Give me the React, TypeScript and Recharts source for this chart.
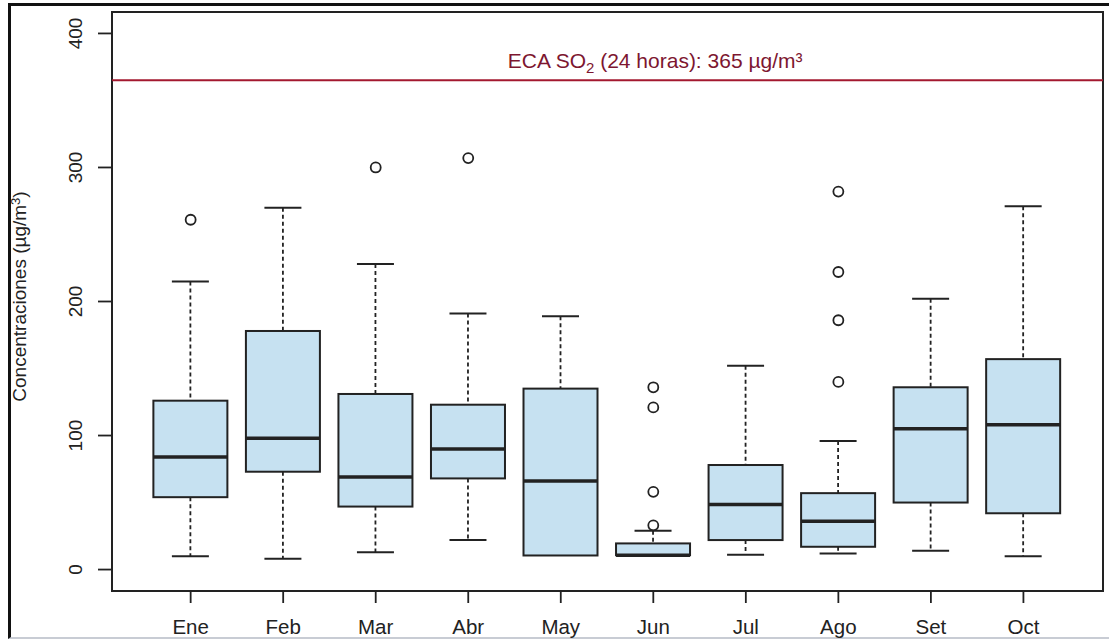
import React from 'react';
import {
  ComposedChart,
  Bar,
  Scatter,
  XAxis,
  YAxis,
  ReferenceLine,
  ReferenceArea,
  ReferenceDot,
} from 'recharts';

const months = ['Ene', 'Feb', 'Mar', 'Abr', 'May', 'Jun', 'Jul', 'Ago', 'Set', 'Oct'];
const whiskerLow = [10, 8, 13, 22, 10.5, 10.7, 11, 12, 14, 10];
const q1 = [54, 73, 47, 68, 10.5, 10.7, 22, 17, 50, 42];
const median = [84, 98, 69, 90, 66, 10.7, 48.5, 36, 105, 108];
const q3 = [126, 178, 131, 123, 135, 19.5, 78, 57, 136, 157];
const whiskerHigh = [215, 270, 228, 191, 189, 29, 152, 96, 202, 271];
const outliers: number[][] = [[261], [], [300], [307], [], [33, 58, 121, 136], [], [140, 186, 222, 282], [], []];
const yTicks = [0, 100, 200, 300, 400];
const ecaLimit = 365;

const boxData = months.map((m, i) => ({
  x: i + 1,
  name: m,
  low: whiskerLow[i],
  q1: q1[i],
  med: median[i],
  q3: q3[i],
  high: whiskerHigh[i],
}));

const outlierData = outliers.flatMap((arr, i) => arr.map((v) => ({ x: i + 1, y: v })));

const FONT = '"Liberation Sans", Arial, Helvetica, sans-serif';
const INK = '#222';
const BOX_FILL = '#c6e1f1';

const BoxShape = (props: any) => {
  const { x, y, width, height, payload } = props;
  if (!payload) return null;
  const { low, q1: b1, med, q3: b3, high } = payload;
  const span = high - low;
  const py = (v: number) => (span === 0 ? y : y + (height * (high - v)) / span);
  const cx = x + width / 2;
  const capHalf = width / 4;
  const yHigh = py(high);
  const yLow = py(low);
  const yQ3 = py(b3);
  const yQ1 = py(b1);
  const yMed = py(med);
  return (
    <g>
      {high > b3 && (
        <>
          <line x1={cx} x2={cx} y1={yHigh} y2={yQ3} stroke={INK} strokeWidth={1.8} strokeDasharray="4 3" />
          <line x1={cx - capHalf} x2={cx + capHalf} y1={yHigh} y2={yHigh} stroke={INK} strokeWidth={2} />
        </>
      )}
      {low < b1 && (
        <>
          <line x1={cx} x2={cx} y1={yQ1} y2={yLow} stroke={INK} strokeWidth={1.8} strokeDasharray="4 3" />
          <line x1={cx - capHalf} x2={cx + capHalf} y1={yLow} y2={yLow} stroke={INK} strokeWidth={2} />
        </>
      )}
      <rect x={x} y={yQ3} width={width} height={Math.max(yQ1 - yQ3, 0)} fill={BOX_FILL} stroke={INK} strokeWidth={2} />
      <line x1={x} x2={x + width} y1={yMed} y2={yMed} stroke={INK} strokeWidth={3.5} />
    </g>
  );
};

const OutlierShape = (props: any) => {
  const { cx, cy } = props;
  return <circle cx={cx} cy={cy} r={5} fill="none" stroke={INK} strokeWidth={1.8} />;
};

const YTick = (props: any) => {
  const { x, y, payload } = props;
  return (
    <text
      x={x}
      y={y}
      transform={`rotate(-90 ${x} ${y})`}
      textAnchor="middle"
      fontSize={19}
      fontFamily={FONT}
      fill={INK}
    >
      {payload.value}
    </text>
  );
};

const YLabel = (props: any) => {
  const vb = props.viewBox || {};
  const x = (vb.x || 0) + 26;
  const y = (vb.y || 0) + (vb.height || 0) / 2 - 5;
  return (
    <text x={x} y={y} transform={`rotate(-90 ${x} ${y})`} textAnchor="middle" fontSize={19} fontFamily={FONT} fill={INK}>
      Concentraciones (µg/m
      <tspan fontSize={13} dy={-6}>3</tspan>
      <tspan dy={6}>)</tspan>
    </text>
  );
};

const EcaLabel = (props: any) => {
  const { cx, cy } = props;
  return (
    <text x={cx} y={cy - 12} textAnchor="middle" fontSize={21} fontFamily={FONT} fill="#7d1630">
      ECA SO
      <tspan fontSize={15} dy={5}>2</tspan>
      <tspan dy={-5}> (24 horas): 365 µg/m³</tspan>
    </text>
  );
};

export default function App() {
  return (
    <div style={{ position: 'absolute', left: 0, top: 0, width: 1109, height: 642, background: '#fff' }}>
      <div
        style={{
          position: 'absolute',
          left: 8,
          top: 3,
          width: 1110,
          height: 636,
          borderLeft: '3px solid #111',
          borderTop: '3px solid #111',
          borderBottom: '2px solid #c8ccd4',
          boxSizing: 'border-box',
        }}
      />
      <div style={{ position: 'absolute', left: 0, top: 0 }}>
        <ComposedChart
          width={1109}
          height={642}
          data={boxData}
          margin={{ top: 12, right: 6, bottom: 0, left: 0 }}
        >
          <XAxis
            type="number"
            dataKey="x"
            domain={[0.15, 10.86]}
            allowDataOverflow
            ticks={[1, 2, 3, 4, 5, 6, 7, 8, 9, 10]}
            tickFormatter={(v: number) => months[v - 1]}
            axisLine={false}
            tickLine={{ stroke: INK, strokeWidth: 1.8 }}
            tickSize={12}
            tickMargin={16}
            height={51}
            tick={{ fill: INK, fontSize: 20.5, fontFamily: FONT }}
            interval={0}
          />
          <YAxis
            type="number"
            domain={[-16, 416]}
            allowDataOverflow
            ticks={yTicks}
            width={112}
            axisLine={false}
            tickLine={{ stroke: INK, strokeWidth: 1.8 }}
            tickSize={14}
            tickMargin={16}
            tick={<YTick />}
            label={<YLabel />}
            interval={0}
          />
          <ReferenceArea
            x1={0.15}
            x2={10.86}
            y1={-16}
            y2={416}
            fill="none"
            stroke={INK}
            strokeWidth={2}
            ifOverflow="visible"
          />
          <ReferenceLine y={ecaLimit} stroke="#a3182f" strokeWidth={2} />
          <ReferenceDot x={6.02} y={ecaLimit} r={0} shape={<EcaLabel />} ifOverflow="visible" />
          <Bar
            dataKey={(d: any) => [d.low, d.high]}
            barSize={74}
            shape={<BoxShape />}
            isAnimationActive={false}
          />
          <Scatter data={outlierData} dataKey="y" shape={<OutlierShape />} isAnimationActive={false} />
        </ComposedChart>
      </div>
    </div>
  );
}
